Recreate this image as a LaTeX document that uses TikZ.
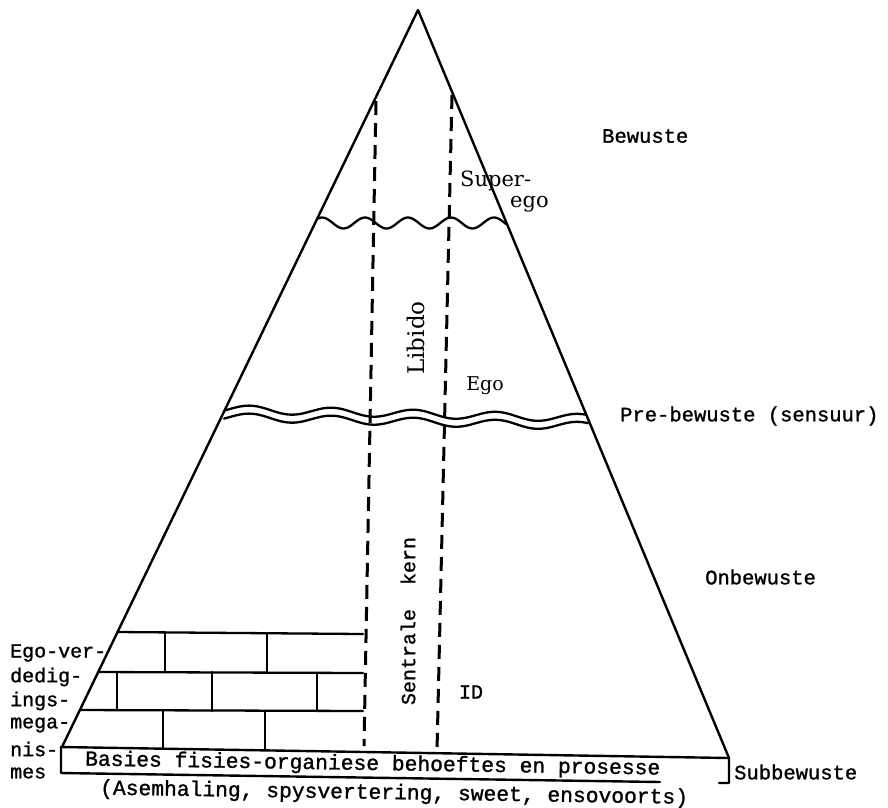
\documentclass[tikz,border=0pt]{standalone}
\usepackage{fontspec}
\newfontfamily\tw[FakeBold=1.2]{Liberation Mono}
\newfontfamily\sr{DejaVu Serif}
\begin{document}
\begin{tikzpicture}[x=1pt,y=-1pt,line join=round,line cap=round]
\tikzset{
  outl/.style={line width=2.4pt},
  wavy/.style={line width=2.3pt},
  dsh/.style={line width=3pt,dash pattern=on 14pt off 8pt,line cap=butt},
  brick/.style={line width=2.3pt},
  tw/.style={inner sep=0pt,font=\tw\fontsize{20.5}{22}\selectfont},
  twl/.style={inner sep=0pt,anchor=west,font=\tw\fontsize{20}{22}\selectfont},
  twb/.style={inner sep=0pt,anchor=west,rotate=-0.9,font=\tw\fontsize{21.3}{23}\selectfont},
  sr/.style={inner sep=0pt,font=\sr\fontsize{21}{23}\selectfont}
}
\useasboundingbox (0,0) rectangle (888,807);
% key points
\coordinate (apex) at (418,10);
\coordinate (bl) at (62,747);
\coordinate (br) at (729,758);
\coordinate (rtl) at (61,747);
\coordinate (rtr) at (729,758);
\coordinate (rbr) at (729,783);
\coordinate (rbl) at (61,773);
\coordinate (rbm) at (660,782);
\coordinate (rbh) at (719,783);
% double wave (pre-bewuste)
\draw[wavy] plot[domain=225:586,samples=120,smooth] (\x,{409+0.025*(\x-225)-4*cos(4.3902*(\x-250))});
\draw[wavy] plot[domain=224:588,samples=120,smooth] (\x,{417+0.025*(\x-225)-4*cos(4.3902*(\x-250))});
% superego wave
\draw[wavy] plot[domain=318:506,samples=90,smooth] (\x,{223-5.5*cos(8.3721*(\x-322))});
% triangle
\draw[outl] (bl) -- (apex) -- (br);
% base rectangle
\draw[outl] (rbm) -- (rbl) -- (rtl) -- (rtr) -- (rbr) -- (rbh);
% dashed core
\coordinate (d1t) at (376,101);
\coordinate (d1b) at (364,746);
\coordinate (d2t) at (452,95);
\coordinate (d2b) at (437,751);
\draw[dsh] (d1t) -- (d1b);
\draw[dsh] (d2t) -- (d2b);
% bricks
\coordinate (r1l) at (117.5,632); \coordinate (r1r) at (363,634);
\coordinate (r2l) at (98.2,672);  \coordinate (r2r) at (363,673);
\coordinate (r3l) at (79.9,710);  \coordinate (r3r) at (363,711);
\draw[brick] (r1l) -- (r1r);
\draw[brick] (r2l) -- (r2r);
\draw[brick] (r3l) -- (r3r);
\draw[brick] (165,632) -- (165,672) (267,633) -- (267,672);
\draw[brick] (117,672) -- (117,710) (212,672) -- (212,711) (317,673) -- (317,711);
\draw[brick] (163,710) -- (163,748) (265,711) -- (265,749);
% right labels
\node[tw,anchor=west] (bew) at (602,136) {Bewuste};
\node[tw,anchor=west] (pre) at (620,416) {Pre-bewuste (sensuur)};
\node[tw,anchor=west] (onb) at (705,577) {Onbewuste};
\node[tw,anchor=west] (sub) at (734,772) {Subbewuste};
% left labels
\node[twl] (l1) at (10,653) {Ego-ver-};
\node[twl] (l2) at (10,677) {dedig-};
\node[twl] (l3) at (10,701) {ings-};
\node[twl] (l4) at (10,725) {mega-};
\node[twl] (l5) at (10,749) {nis-};
\node[twl] (l6) at (10,773) {mes};
% base texts
\node[twb] (b1) at (85,760) {Basies fisies-organiese behoeftes en prosesse};
\node[twb] (b2) at (100,789) {(Asemhaling, spysvertering, sweet, ensovoorts)};
% inner labels
\node[sr,anchor=west] (sup) at (460,181) {Super-};
\node[sr,anchor=west] (sego) at (510,204) {ego};
\node[sr,rotate=90,font=\sr\fontsize{23}{25}\selectfont] (lib) at (416,338) {Libido};
\node[sr,font=\sr\fontsize{19}{21}\selectfont] (ego) at (485,386) {Ego};
\node[tw,rotate=90,font=\tw\fontsize{20}{22}\selectfont] (sk) at (408,621) {Sentrale\ \ kern};
\node[tw,font=\tw\fontsize{20}{22}\selectfont] (id) at (471,692) {ID};
\end{tikzpicture}
\end{document}
